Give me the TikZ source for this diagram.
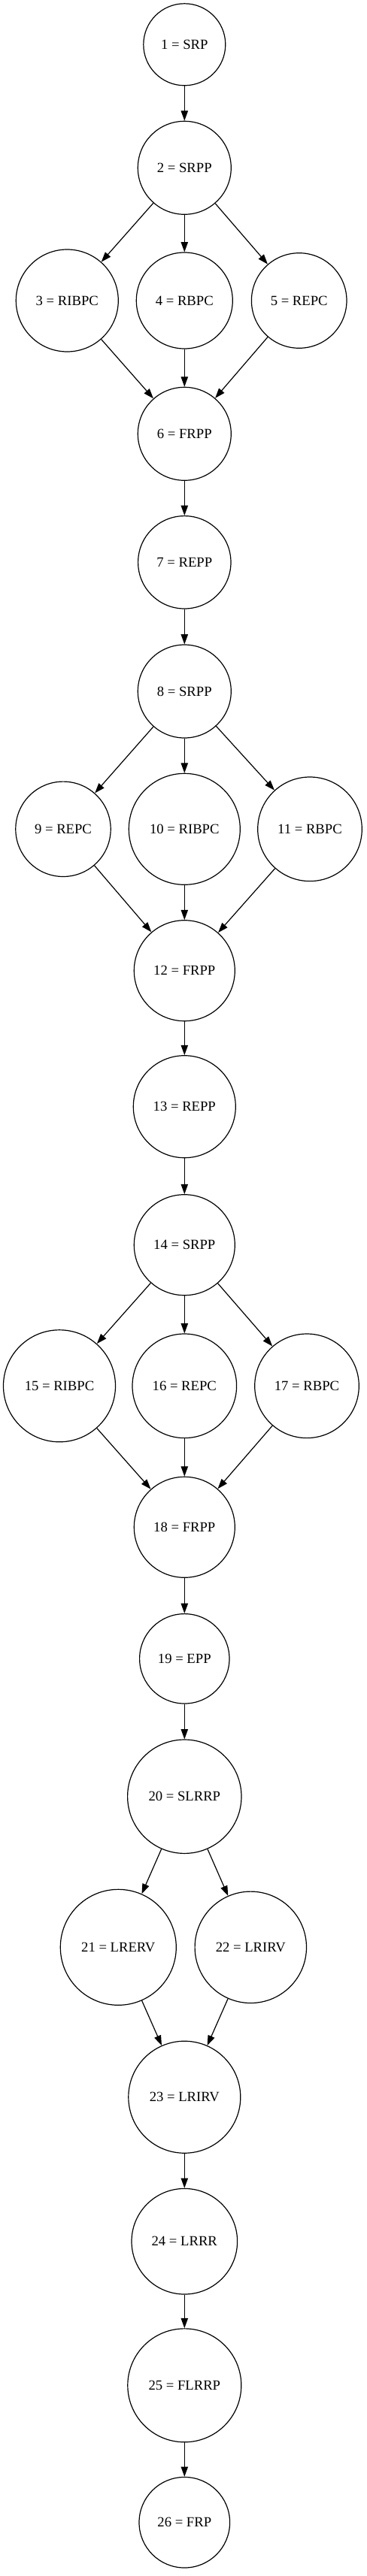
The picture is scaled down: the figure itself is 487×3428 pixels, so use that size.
\documentclass[tikz,border=0pt]{standalone}
\usepackage{fontspec}
\setmainfont{Liberation Serif}
\usetikzlibrary{arrows.meta}
\tikzset{
    st/.style={circle, draw, line width=0.9pt, inner sep=0pt, minimum size=#1*1.5pt},
    flow/.style={-{Triangle[length=10pt,width=7pt]}, line width=0.9pt}
}
\begin{document}
\begin{tikzpicture}[x=0.75pt, y=-0.75pt, font=\fontsize{14}{16.8}\selectfont]
            \useasboundingbox (0,0) rectangle (487,3428);

            \node[st=54.5] (n1) at (245.3,59.3) {1 = SRP};
            \node[st=62] (n2) at (245.3,223.3) {2 = SRPP};
            \node[st=68] (n3) at (89.3,400) {3 = RIBPC};
            \node[st=64] (n4) at (245.3,400) {4 = RBPC};
            \node[st=63.3] (n5) at (397.7,400) {5 = REPC};
            \node[st=62] (n6) at (245.3,577.3) {6 = FRPP};
            \node[st=61.7] (n7) at (245.3,748.3) {7 = REPP};
            \node[st=62] (n8) at (245.3,920) {8 = SRPP};
            \node[st=63.2] (n9) at (84,1103.3) {9 = REPC};
            \node[st=74] (n10) at (245.3,1103.3) {10 = RIBPC};
            \node[st=69.3] (n11) at (412,1103.3) {11 = RBPC};
            \node[st=67] (n12) at (245.3,1291.7) {12 = FRPP};
            \node[st=68] (n13) at (245.3,1472.7) {13 = REPP};
            \node[st=67] (n14) at (245.3,1656.7) {14 = SRPP};
            \node[st=74.5] (n15) at (79,1844.3) {15 = RIBPC};
            \node[st=69.3] (n16) at (245.3,1844.3) {16 = REPC};
            \node[st=69.3] (n17) at (408,1844.3) {17 = RBPC};
            \node[st=67] (n18) at (245.3,2032.3) {18 = FRPP};
            \node[st=59.7] (n19) at (245.3,2207.3) {19 = EPP};
            \node[st=75.7] (n20) at (245.3,2390.7) {20 = SLRRP};
            \node[st=77] (n21) at (157.3,2591.3) {21 = LRERV};
            \node[st=74.2] (n22) at (333.3,2591.3) {22 = LRIRV};
            \node[st=74.5] (n23) at (245.3,2790.7) {23 = LRIRV};
            \node[st=70.3] (n24) at (245.3,2982.7) {24 = LRRR};
            \node[st=75.5] (n25) at (245.3,3174.3) {25 = FLRRP};
            \node[st=60.3] (n26) at (245.3,3356.7) {26 = FRP};

            \draw[flow] (n1) -- (n2);
            \draw[flow] (n2) -- (n3);
            \draw[flow] (n2) -- (n4);
            \draw[flow] (n2) -- (n5);
            \draw[flow] (n3) -- (n6);
            \draw[flow] (n4) -- (n6);
            \draw[flow] (n5) -- (n6);
            \draw[flow] (n6) -- (n7);
            \draw[flow] (n7) -- (n8);
            \draw[flow] (n8) -- (n9);
            \draw[flow] (n8) -- (n10);
            \draw[flow] (n8) -- (n11);
            \draw[flow] (n9) -- (n12);
            \draw[flow] (n10) -- (n12);
            \draw[flow] (n11) -- (n12);
            \draw[flow] (n12) -- (n13);
            \draw[flow] (n13) -- (n14);
            \draw[flow] (n14) -- (n15);
            \draw[flow] (n14) -- (n16);
            \draw[flow] (n14) -- (n17);
            \draw[flow] (n15) -- (n18);
            \draw[flow] (n16) -- (n18);
            \draw[flow] (n17) -- (n18);
            \draw[flow] (n18) -- (n19);
            \draw[flow] (n19) -- (n20);
            \draw[flow] (n20) -- (n21);
            \draw[flow] (n20) -- (n22);
            \draw[flow] (n21) -- (n23);
            \draw[flow] (n22) -- (n23);
            \draw[flow] (n23) -- (n24);
            \draw[flow] (n24) -- (n25);
            \draw[flow] (n25) -- (n26);
        \end{tikzpicture}
\end{document}
